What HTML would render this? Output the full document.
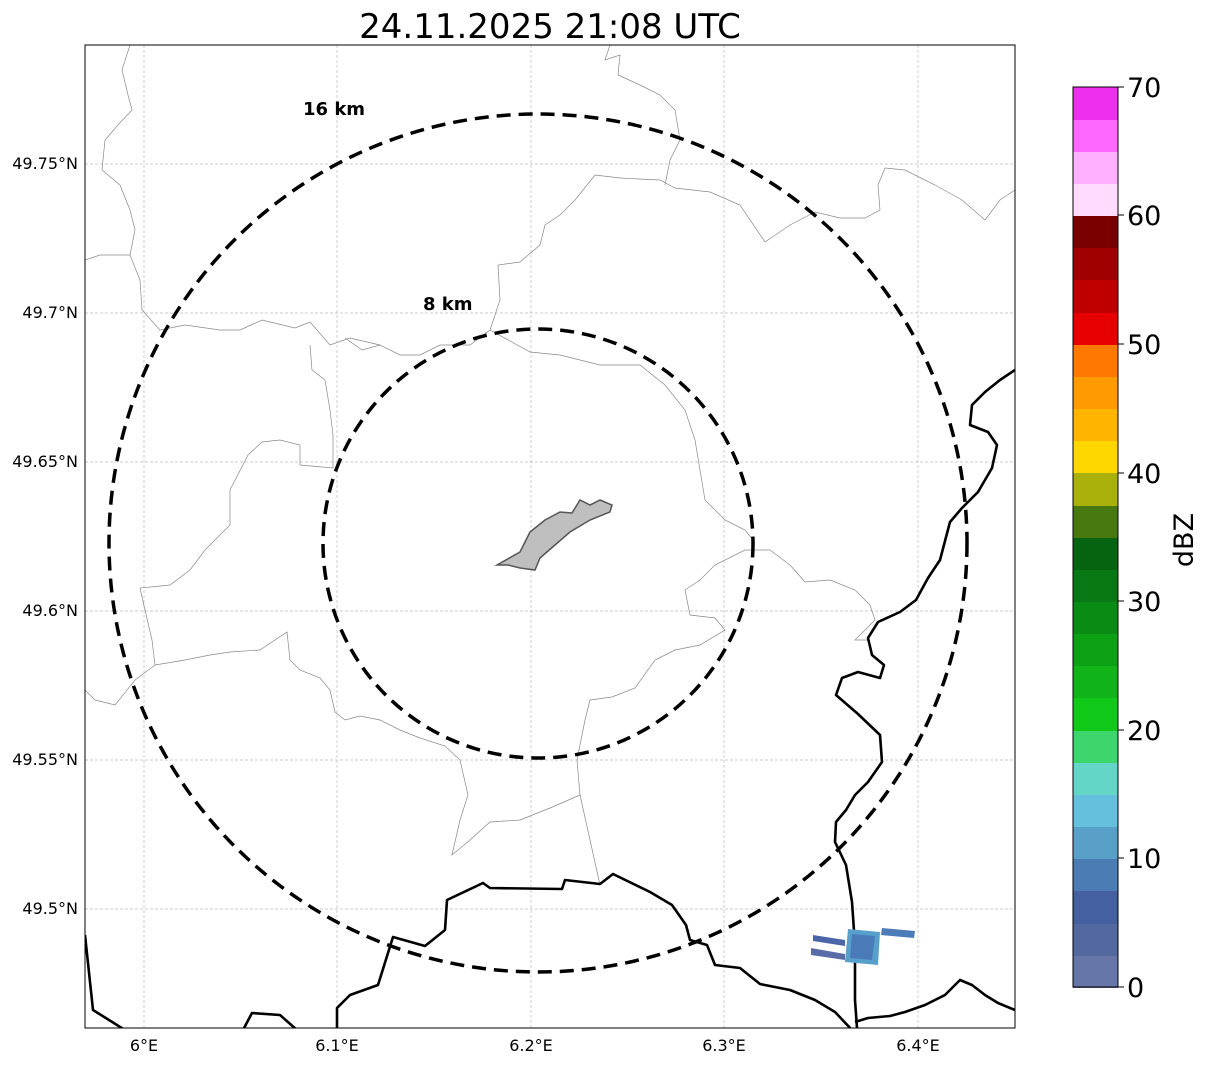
<!DOCTYPE html>
<html><head><meta charset="utf-8"><style>
body{margin:0;background:#fff;width:1207px;height:1064px;overflow:hidden}
text{font-family:"DejaVu Sans","Liberation Sans",sans-serif}
</style></head><body>
<svg width="1207" height="1064" xmlns="http://www.w3.org/2000/svg">
<text x="550" y="38" font-size="34" text-anchor="middle">24.11.2025 21:08 UTC</text>
<defs><clipPath id="c"><rect x="85" y="45" width="930" height="983"/></clipPath></defs>
<g clip-path="url(#c)">
<g stroke="#bbb" stroke-width="0.7" stroke-dasharray="3,2">
<line x1="144" y1="45" x2="144" y2="1028"/><line x1="337" y1="45" x2="337" y2="1028"/><line x1="531" y1="45" x2="531" y2="1028"/><line x1="724" y1="45" x2="724" y2="1028"/><line x1="918" y1="45" x2="918" y2="1028"/>
<line x1="85" y1="164" x2="1015" y2="164"/><line x1="85" y1="313" x2="1015" y2="313"/><line x1="85" y1="462" x2="1015" y2="462"/><line x1="85" y1="611" x2="1015" y2="611"/><line x1="85" y1="760" x2="1015" y2="760"/><line x1="85" y1="909" x2="1015" y2="909"/>
</g>
<g fill="none" stroke="#888" stroke-width="0.7">
<path d="M130,45 L122,70 L128,95 L132,110 L118,125 L105,140 L102,170 L120,185 L130,210 L135,230 L130,255 L100,255 L85,260"/>
<path d="M130,255 L140,280 L142,310 L160,330 L185,325 L220,330 L240,330 L262,320 L295,328 L310,322 L330,345 L350,338 L380,345 L400,355 L420,355 L440,345 L470,345 L490,330 L500,300 L498,265 L520,262 L540,245 L545,225 L560,215 L575,200 L595,175 L620,178 L660,180 L675,188 L710,192 L740,205 L765,242 L790,225 L815,212 L840,218 L865,218 L880,210 L878,185 L885,168 L905,170 L935,185 L962,200 L985,220 L1000,200 L1015,190"/>
<path d="M610,45 L605,60 L620,55 L618,75 L640,85 L660,95 L675,110 L680,140 L670,160 L665,185"/>
<path d="M310,345 L312,370 L325,380 L330,410 L333,435 L333,468 L300,465 L300,445 L280,440 L262,442 L248,455 L230,490 L230,525 L205,550 L190,570 L170,585 L140,588 L145,610 L152,640 L155,665 L135,680 L115,705 L95,700 L85,690"/>
<path d="M155,665 L185,660 L210,655 L230,652 L260,650 L287,632 L290,660 L300,670 L320,678 L330,690 L335,712 L345,720 L360,716 L380,720 L400,730 L420,738 L445,746 L460,760 L468,795 L460,820 L452,855 L470,840 L490,822 L520,820 L550,808 L580,795 L590,840 L600,885"/>
<path d="M580,795 L577,760 L585,720 L590,700 L612,697 L635,688 L655,660 L675,650 L700,645 L725,630 L715,618 L690,615 L685,590 L700,580 L715,565 L745,550 L770,550 L790,565 L805,582 L830,580 L855,590 L870,605 L875,620 L855,640 L868,640"/>
<path d="M345,338 L362,350 L380,345"/>
<path d="M490,330 L530,352 L560,355 L600,365 L640,365 L665,385 L685,410 L695,440 L700,470 L705,500 L725,520 L745,530 L753,540"/>
</g>
<path d="M497,565 L520,552 L530,532 L545,520 L560,512 L572,513 L580,500 L590,505 L600,500 L612,505 L610,512 L590,520 L570,532 L555,545 L540,558 L535,570 L520,568 L508,565 Z" fill="#bfbfbf" stroke="#555" stroke-width="1.5"/>
<g fill="none" stroke="#000" stroke-width="2.6" stroke-linejoin="round">
<path d="M1015,370 L1000,380 L985,392 L972,405 L970,425 L988,432 L997,445 L992,468 L978,492 L962,508 L950,522 L940,560 L928,578 L916,600 L900,612 L878,622 L868,638 L872,655 L884,665 L880,678 L858,672 L842,678 L836,695 L858,714 L880,735 L882,762 L868,782 L855,795 L846,810 L836,822 L835,842 L846,865 L852,902 L855,945 L855,1000 L857,1028"/>
<path d="M85,935 L93,1010 L125,1030"/>
<path d="M243,1030 L252,1013 L280,1015 L297,1030"/>
<path d="M337,1030 L337,1008 L350,995 L378,985 L393,937 L425,946 L445,930 L447,900 L483,883 L490,888 L562,889 L565,880 L600,884 L613,874 L650,892 L672,905 L686,925 L690,940 L707,945 L715,965 L740,968 L760,984 L790,990 L815,1000 L835,1012 L852,1030"/>
<path d="M855,1022 L868,1018 L890,1016 L905,1012 L925,1005 L945,995 L960,980 L972,985 L985,995 L998,1003 L1015,1010"/>
</g>
<g fill="none" stroke="#000" stroke-width="3.5" stroke-dasharray="14,8">
<ellipse cx="538" cy="543" rx="429" ry="429"/>
<ellipse cx="538" cy="543.5" rx="215" ry="214.5"/>
</g>
<g>
<polygon points="813,935 845,940 845,946 813,941" fill="#4a66a8"/>
<polygon points="811,948 845,954 845,960 811,955" fill="#5a6ca8"/>
<polygon points="848,929 880,932 878,965 845,962" fill="#58a0cc"/>
<polygon points="852,934 875,936 872,960 850,958" fill="#4a7ab8"/>
<polygon points="882,928 915,931 914,938 881,935" fill="#4c7cb8"/>
</g>
</g>
<rect x="85" y="45" width="930" height="983" fill="none" stroke="#000" stroke-width="1"/>
<text x="303" y="115" font-size="18" font-weight="bold">16 km</text>
<text x="423" y="310" font-size="18" font-weight="bold">8 km</text>
<g font-size="16" text-anchor="middle">
<text x="144" y="1051">6°E</text><text x="337" y="1051">6.1°E</text><text x="531" y="1051">6.2°E</text><text x="724" y="1051">6.3°E</text><text x="918" y="1051">6.4°E</text>
</g>
<g font-size="16" text-anchor="end">
<text x="78" y="169">49.75°N</text><text x="78" y="318">49.7°N</text><text x="78" y="467">49.65°N</text><text x="78" y="616">49.6°N</text><text x="78" y="765">49.55°N</text><text x="78" y="914">49.5°N</text>
</g>
<g>
<rect x="1073" y="955" width="45" height="33" fill="#6676a8"/>
<rect x="1073" y="923" width="45" height="33" fill="#5468a0"/>
<rect x="1073" y="891" width="45" height="33" fill="#4560a0"/>
<rect x="1073" y="858" width="45" height="33" fill="#4c7cb4"/>
<rect x="1073" y="826" width="45" height="33" fill="#58a0c8"/>
<rect x="1073" y="794" width="45" height="33" fill="#64c0dc"/>
<rect x="1073" y="762" width="45" height="33" fill="#64d6c8"/>
<rect x="1073" y="730" width="45" height="33" fill="#3cd66c"/>
<rect x="1073" y="698" width="45" height="33" fill="#10c818"/>
<rect x="1073" y="665" width="45" height="33" fill="#10b418"/>
<rect x="1073" y="633" width="45" height="33" fill="#0ca014"/>
<rect x="1073" y="601" width="45" height="33" fill="#0a8c14"/>
<rect x="1073" y="569" width="45" height="33" fill="#087814"/>
<rect x="1073" y="537" width="45" height="33" fill="#066410"/>
<rect x="1073" y="505" width="45" height="33" fill="#487810"/>
<rect x="1073" y="473" width="45" height="33" fill="#aab00a"/>
<rect x="1073" y="440" width="45" height="33" fill="#ffd700"/>
<rect x="1073" y="408" width="45" height="33" fill="#ffb400"/>
<rect x="1073" y="376" width="45" height="33" fill="#ff9a00"/>
<rect x="1073" y="344" width="45" height="33" fill="#ff7800"/>
<rect x="1073" y="312" width="45" height="33" fill="#e60000"/>
<rect x="1073" y="280" width="45" height="33" fill="#c00000"/>
<rect x="1073" y="247" width="45" height="33" fill="#a00000"/>
<rect x="1073" y="215" width="45" height="33" fill="#780000"/>
<rect x="1073" y="183" width="45" height="33" fill="#ffdcff"/>
<rect x="1073" y="151" width="45" height="33" fill="#ffb0ff"/>
<rect x="1073" y="119" width="45" height="33" fill="#ff68ff"/>
<rect x="1073" y="87" width="45" height="33" fill="#ee30ee"/>
<rect x="1073" y="87" width="45" height="900" fill="none" stroke="#000" stroke-width="1"/>
</g>
<g stroke="#000"><line x1="1118" y1="987" x2="1124" y2="987"/><line x1="1118" y1="858" x2="1124" y2="858"/><line x1="1118" y1="730" x2="1124" y2="730"/><line x1="1118" y1="601" x2="1124" y2="601"/><line x1="1118" y1="473" x2="1124" y2="473"/><line x1="1118" y1="344" x2="1124" y2="344"/><line x1="1118" y1="215" x2="1124" y2="215"/><line x1="1118" y1="87" x2="1124" y2="87"/></g>
<g font-size="27">
<text x="1127" y="997">0</text><text x="1127" y="868">10</text><text x="1127" y="740">20</text><text x="1127" y="611">30</text><text x="1127" y="483">40</text><text x="1127" y="354">50</text><text x="1127" y="225">60</text><text x="1127" y="97">70</text>
</g>
<text x="1193" y="540" font-size="27" text-anchor="middle" transform="rotate(-90 1193 540)">dBZ</text>
</svg>
</body></html>
